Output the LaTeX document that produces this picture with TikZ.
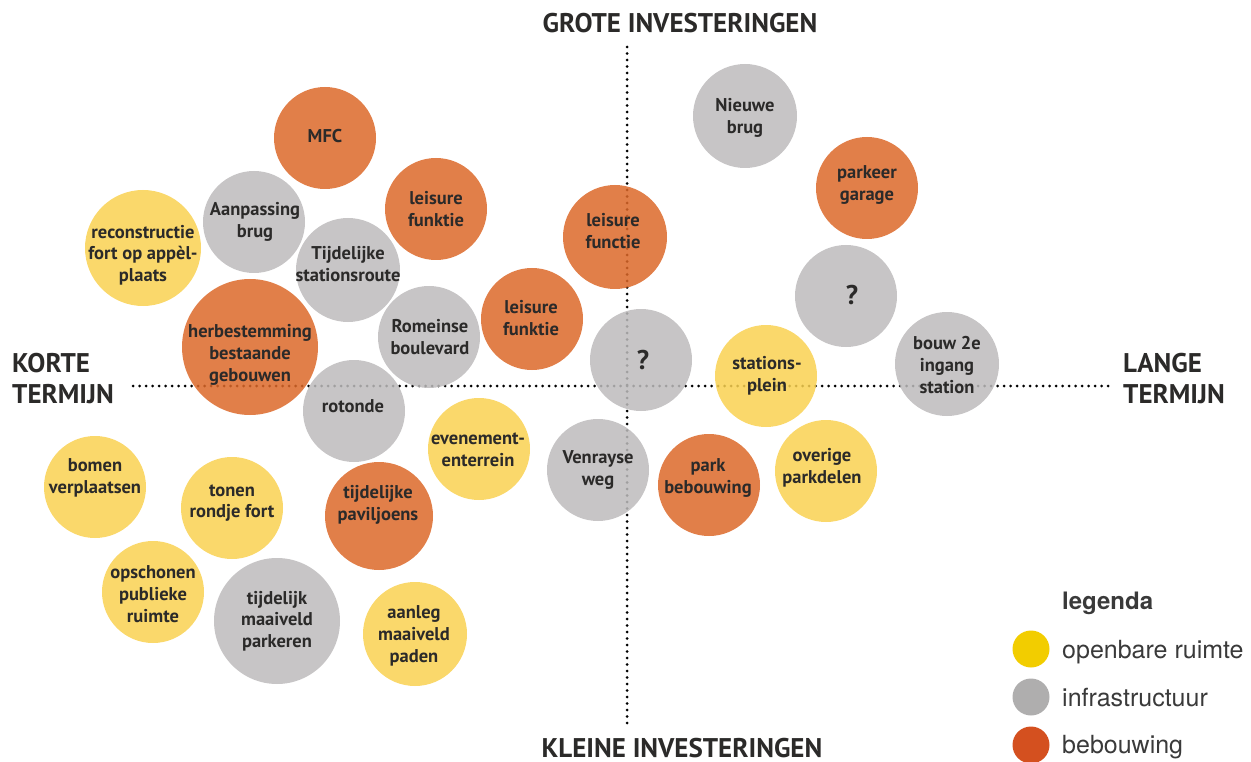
\documentclass[tikz,border=0pt]{standalone}
\usepackage{fontspec}
\setmainfont{PT Sans}
\newfontfamily\legfont{TeX Gyre Heros}
\definecolor{orng}{RGB}{220,104,41}
\definecolor{yelw}{RGB}{249,209,81}
\definecolor{gry}{RGB}{189,187,188}
\definecolor{ink}{HTML}{2B2A29}
\definecolor{legink}{HTML}{3A3A3A}
\definecolor{legY}{HTML}{F2CD00}
\definecolor{legG}{HTML}{AFAEAE}
\definecolor{legR}{HTML}{D4501F}
\newcommand\bubble[8]{%
  \node[bub, fill=#5, minimum size=2*#4] (#1) at (#2,#3) {};
  \node[txt] (#1-t) at ([shift={(#6,#7)}]#1.center) {#8};}
\newcommand\qmk{{\fontsize{27}{30}\selectfont ?}}
\begin{document}
\begin{tikzpicture}[x=1pt,y=-1pt,
  bub/.style={circle, inner sep=0pt, draw=none, fill opacity=0.85},
  txt/.style={font=\bfseries\fontsize{18.5}{21.7}\selectfont, align=center, text=ink, inner sep=0pt},
  axlbl/.style={font=\bfseries\fontsize{27}{31}\selectfont, text=ink, inner sep=0pt},
  axisline/.style={line width=3pt, line cap=round, dash pattern=on 0pt off 6.5pt, draw=black},
  legdot/.style={circle, inner sep=0pt, minimum size=37pt},
  legtxt/.style={font=\legfont\fontsize{25}{30}\selectfont, text=legink, inner sep=0pt, anchor=base west}]
\useasboundingbox (0,0) rectangle (1251,762);
% axes
\coordinate (vtop) at (627,47);
\coordinate (vbot) at (627,727);
\coordinate (hleft) at (133,386);
\coordinate (hright) at (1112,386);
\draw[axisline] (vtop) -- (vbot);
\draw[axisline] (hleft) -- (hright);
% bubbles
\bubble{mfc}{325}{138}{51}{orng}{0}{-2}{MFC}
\bubble{aanp}{254}{222}{51}{gry}{1}{0}{Aanpassing\\brug}
\bubble{recon}{143}{248}{58}{yelw}{0}{7}{reconstructie\\fort op appèl-\\plaats}
\bubble{tijdst}{348}{270}{52}{gry}{0}{-6}{Tijdelijke\\stationsroute}
\bubble{leis1}{436}{209}{51}{orng}{0}{0}{leisure\\funktie}
\bubble{leis2}{615}{237}{52}{orng}{-2}{-6}{leisure\\functie}
\bubble{nieuw}{745}{116}{52}{gry}{0}{2}{Nieuwe\\brug}
\bubble{parkg}{867}{188}{51}{orng}{0}{-3}{parkeer\\garage}
\bubble{qr}{846}{296}{51}{gry}{6}{-1}{\qmk}
\bubble{bouw}{947}{364}{52}{gry}{0}{1}{bouw 2e\\ingang\\station}
\bubble{herb}{250}{347}{68}{orng}{0}{8}{herbestemming\\bestaande\\gebouwen}
\bubble{rom}{429}{337}{51}{gry}{1}{0}{Romeinse\\boulevard}
\bubble{rot}{354}{411}{51}{gry}{-1}{-5}{rotonde}
\bubble{leis3}{532}{319}{51}{orng}{-1}{-1}{leisure\\funktie}
\bubble{qc}{641}{360}{51}{gry}{2}{0}{\qmk}
\bubble{stpl}{766}{376}{51}{yelw}{1}{0}{stations-\\plein}
\bubble{even}{479}{449}{51}{yelw}{-1}{1}{evenement-\\enterrein}
\bubble{venr}{598}{470}{51}{gry}{0}{0}{Venrayse\\weg}
\bubble{parkb}{709}{485}{51}{orng}{-1}{-7}{park\\bebouwing}
\bubble{overig}{826}{471}{51}{yelw}{-4}{-3}{overige\\parkdelen}
\bubble{bomen}{95}{487}{51}{yelw}{0}{-9}{bomen\\verplaatsen}
\bubble{tonen}{232}{508}{51}{yelw}{0}{-5}{tonen\\rondje fort}
\bubble{pav}{379}{516}{54}{orng}{-1}{-11}{tijdelijke\\paviljoens}
\bubble{opsch}{153}{592}{51}{yelw}{0}{2}{opschonen\\publieke\\ruimte}
\bubble{maaip}{277}{621}{63}{gry}{0}{0}{tijdelijk\\maaiveld\\parkeren}
\bubble{aanleg}{415}{634}{52}{yelw}{-1}{2}{aanleg\\maaiveld\\paden}
% axis labels
\node[axlbl, anchor=base] (grote) at (680,33) {GROTE INVESTERINGEN};
\node[axlbl, anchor=base] (kleine) at (682,757) {KLEINE INVESTERINGEN};
\node[axlbl, anchor=base west] (korte1) at (12,372) {KORTE};
\node[axlbl, anchor=base west] (korte2) at (12,403) {TERMIJN};
\node[axlbl, anchor=base west] (lange1) at (1123,372) {LANGE};
\node[axlbl, anchor=base west] (lange2) at (1123,403) {TERMIJN};
% legend
\node[legtxt, font=\legfont\bfseries\fontsize{24}{30}\selectfont] (legtitle) at (1062,609) {legenda};
\node[legdot, fill=legY] (ldY) at (1031,649) {};
\node[legdot, fill=legG] (ldG) at (1031,697) {};
\node[legdot, fill=legR] (ldR) at (1031,745) {};
\node[legtxt] (ltY) at (1062,658) {openbare ruimte};
\node[legtxt] (ltG) at (1062,706) {infrastructuur};
\node[legtxt] (ltR) at (1062,753) {bebouwing};
\end{tikzpicture}
\end{document}
